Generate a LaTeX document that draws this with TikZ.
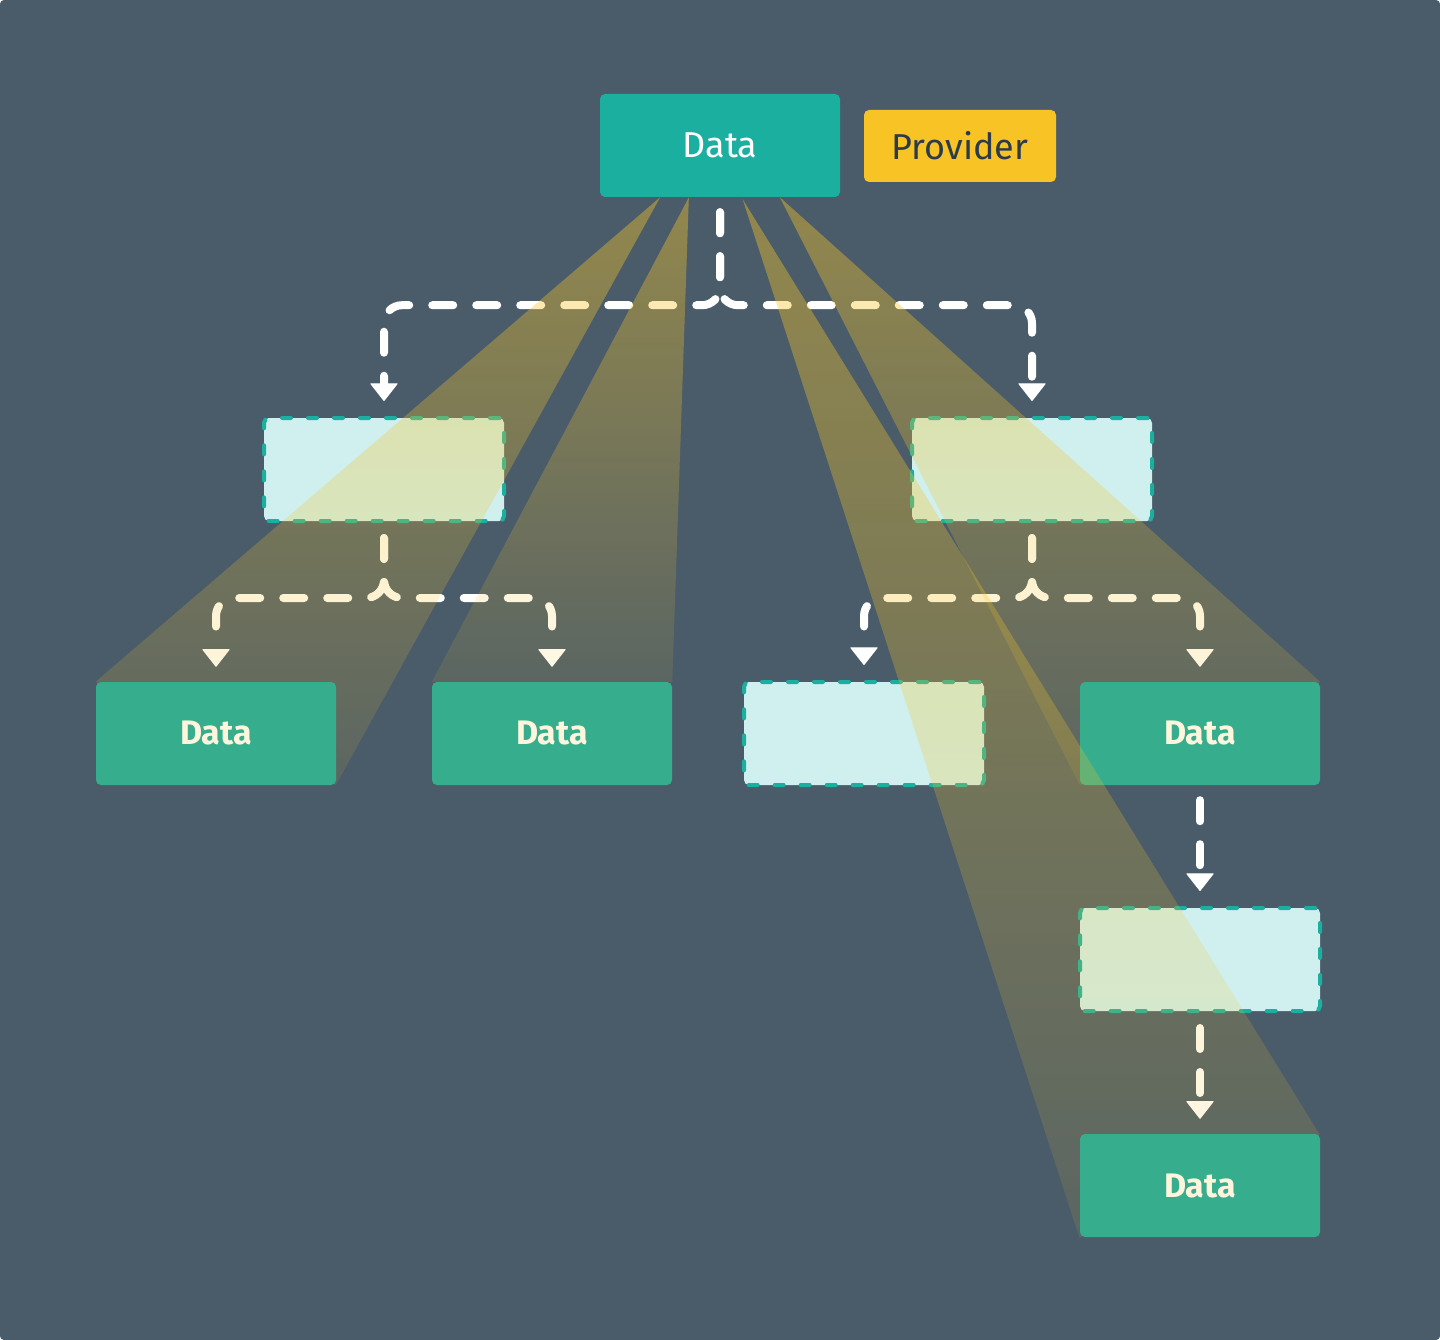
\documentclass[tikz,border=0pt]{standalone}
\usepackage{fontspec}
\setmainfont{Fira Sans}
\usepackage{tikz}
\usetikzlibrary{arrows.meta,fadings}

\definecolor{fondo}{HTML}{4A5C6A}
\definecolor{turquesa}{HTML}{1AAF9F}
\definecolor{verde}{HTML}{36AE8E}
\definecolor{celeste}{HTML}{D0F0EF}
\definecolor{amarillo}{HTML}{F8C425}
\definecolor{crema}{HTML}{FFF5DC}
\definecolor{tinta}{HTML}{2B3B4B}

\tikzfading[name=desvanecer, top color=transparent!58, bottom color=transparent!90]

\tikzset{
  caja/.style={rectangle, rounded corners=5pt, minimum width=240pt, minimum height=103pt, inner sep=0pt},
  dato/.style={caja, fill=verde, text=crema, font=\fontsize{34}{40}\selectfont\bfseries},
  vacia/.style={caja, fill=celeste, draw=turquesa, line width=4pt, dash pattern=on 9pt off 17pt, line cap=round},
  flecha/.style={draw=white, line width=8pt, line cap=round, dash pattern=on 21pt off 23pt, rounded corners=18pt,
    -{Triangle[width=28pt,length=18pt,line width=1pt,round]}, shorten <=15pt, shorten >=15pt},
  haz/.style={fill=amarillo, path fading=desvanecer},
}

\begin{document}
\begin{tikzpicture}[x=1pt,y=-1pt]
% Fondo
\fill[white] (0,0) rectangle (1440,1340);
\fill[fondo, rounded corners=4pt] (0,0) rectangle (1440,1340);
\useasboundingbox (0,0) rectangle (1440,1340);
% Posiciones (sin dibujar)
\path (720,145.5) node[caja] (top) {} (216,733.5) node[caja] (d1) {} (552,733.5) node[caja] (d2) {}
  (1200,733.5) node[caja] (d3) {} (1200,1185.5) node[caja] (d4) {};
% Fuente y proveedor
\node[caja, fill=turquesa, text=white, font=\fontsize{36}{42}\selectfont] (fuente) at (top) {Data};
\node[caja, fill=amarillo, text=tinta, minimum width=192pt, minimum height=72pt, font=\fontsize{36}{42}\selectfont] (prov) at (960,146) {Provider};
% Cajas vacias
\node[vacia] (vL) at (384,469.5) {};
\node[vacia] (vR) at (1032,469.5) {};
\node[vacia] (vM) at (864,733.5) {};
\node[vacia] (vB) at (1200,959.5) {};
% Conectores
\draw[flecha] (fuente.south) -- ++(0,108) -| (vL.north);
\draw[flecha] (fuente.south) -- ++(0,108) -| (vR.north);
\draw[flecha] (vL.south) -- ++(0,75) -| (d1.north);
\draw[flecha] (vL.south) -- ++(0,75) -| (d2.north);
\draw[flecha] (vR.south) -- ++(0,75) -| (vM.north);
\draw[flecha] (vR.south) -- ++(0,75) -| (d3.north);
\draw[flecha] (d3.south) -- (vB.north);
\draw[flecha] (vB.south) -- (d4.north);
% Haces
\fill[haz] ([xshift=61pt]top.south west) -- (d1.north west) -- (d1.south east) -- cycle;
\fill[haz] ([xshift=89pt]top.south west) -- (d2.north west) -- (d2.north east) -- cycle;
\fill[haz] ([xshift=180pt]top.south west) -- (d3.south west) -- (d3.north east) -- cycle;
% Datos
\node[dato] (dato1) at (d1) {Data};
\node[dato] (dato2) at (d2) {Data};
\node[dato] (dato3) at (d3) {Data};
% Haz largo
\fill[haz] ([xshift=143pt]top.south west) -- (d4.south west) -- (d4.north east) -- cycle;
\node[dato] (dato4) at (d4) {Data};
\end{tikzpicture}
\end{document}
